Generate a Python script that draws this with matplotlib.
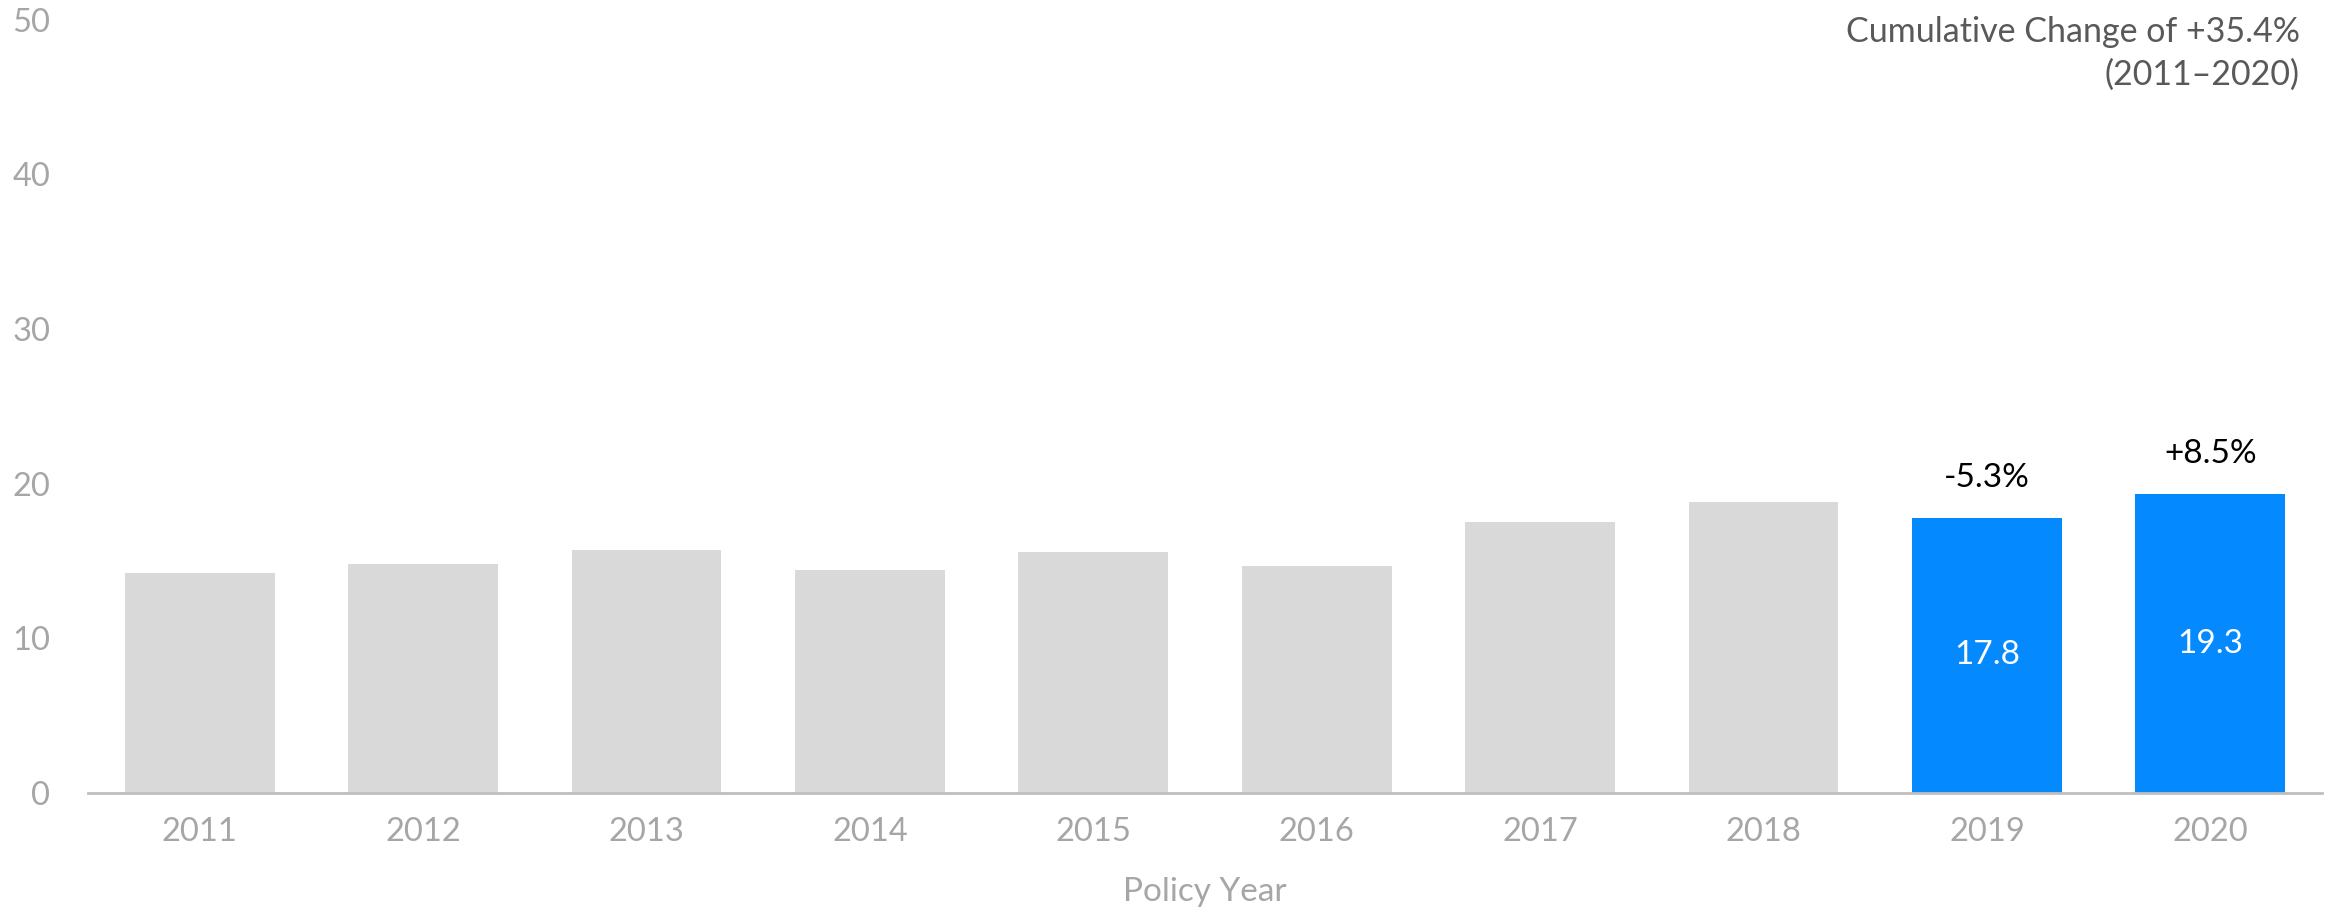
"""Policy-year bar chart with the last two years highlighted."""
import matplotlib
matplotlib.use("Agg")
import matplotlib.pyplot as plt
import numpy as np

plt.rcParams["font.family"] = ["Lato", "DejaVu Sans"]

# ─── Data ────────────────────────────────────────────────────────────────
years = ["2011", "2012", "2013", "2014", "2015", "2016", "2017", "2018", "2019", "2020"]
values = [14.2, 14.8, 15.7, 14.4, 15.6, 14.7, 17.5, 18.8, 17.8, 19.3]
highlight = [False] * 8 + [True, True]
pct_labels = {"2019": "-5.3%", "2020": "+8.5%"}
yticks = [0, 10, 20, 30, 40, 50]
note = "Cumulative Change of +35.4%\n(2011\u20132020)"

GREY = "#d9d9d9"
BLUE = "#0489fe"
TICK_C = "#a6a6a6"
AXIS_C = "#bfbfbf"

# ─── Plot ────────────────────────────────────────────────────────────────
fig = plt.figure(figsize=(23.33, 9.09), dpi=100)
ax = fig.add_axes([88 / 2333, 1 - 793 / 909, (2322 - 88) / 2333, (793 - 19.5) / 909])

x = np.arange(len(years))
colors = [BLUE if h else GREY for h in highlight]
ax.bar(x, values, width=0.67, color=colors, zorder=2)

for xi, v, yr, h in zip(x, values, years, highlight):
    if not h:
        continue
    ax.text(xi, v / 2, f"{v:.1f}", ha="center", va="center",
            color="white", fontsize=24)
    ax.annotate(pct_labels[yr], (xi, v), xytext=(0, 40), textcoords="offset pixels",
                ha="center", va="center", color="black", fontsize=24)

ax.set_xlim(-0.5, len(years) - 0.5)
ax.set_ylim(0, 50)
ax.set_xticks(x)
ax.set_xticklabels(years)
ax.set_yticks(yticks)
ax.tick_params(axis="both", length=0, labelsize=23.5, labelcolor=TICK_C)
ax.tick_params(axis="y", pad=27)
ax.tick_params(axis="x", pad=17)
ax.set_xlabel("Policy Year", fontsize=24, color=TICK_C, labelpad=22)

for s in ("left", "right", "top"):
    ax.spines[s].set_visible(False)
ax.spines["bottom"].set_color(AXIS_C)
ax.spines["bottom"].set_linewidth(2)

fig.text(2300 / 2333, 1 - 16 / 909, note, ha="right", va="top",
         fontsize=24.5, color="#595959", linespacing=1.4)

fig.savefig("out.png", dpi=100)
